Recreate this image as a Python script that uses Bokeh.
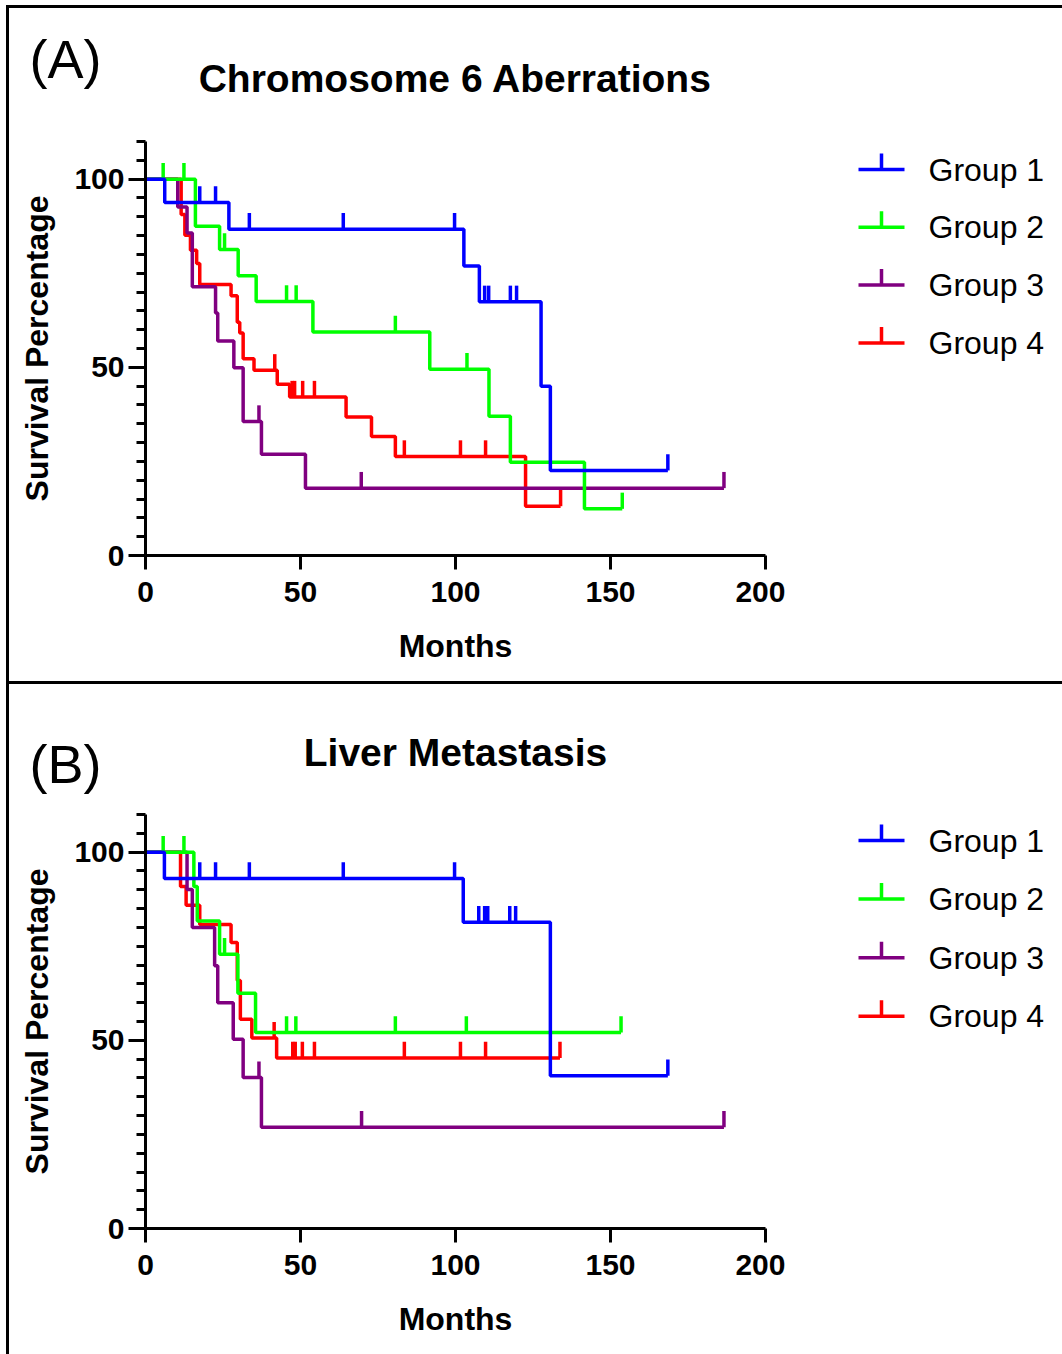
from bokeh.plotting import figure
from bokeh.models import Range1d, FixedTicker, Label
from bokeh.core.properties import value
from bokeh.layouts import column, row
from bokeh.embed import file_html
from bokeh.resources import INLINE

GROUPS = ["Group 1", "Group 2", "Group 3", "Group 4"]
COLORS = ["#0000ff", "#00ff00", "#800080", "#ff0000"]
X_TICKS = [0, 50, 100, 150, 200]
Y_TICKS = [0, 50, 100]

# ---------------- Panel A: Chromosome 6 Aberrations ----------------
a_g1_t = [0, 6.2, 26.9, 102.7, 107.7, 127.6, 130.6]
a_g1_s = [100, 93.8, 86.7, 76.9, 67.4, 45.0, 22.6]
a_g1_end = 168.5
a_g1_c = [17.5, 22.6, 33.5, 63.8, 99.7, 109.4, 110.7, 117.7, 119.7, 168.5]

a_g2_t = [0, 16.1, 23.9, 29.9, 35.7, 54.0, 91.7, 110.8, 117.7, 141.6]
a_g2_s = [100, 87.5, 81.3, 74.3, 67.5, 59.4, 49.5, 37.0, 24.8, 12.4]
a_g2_end = 153.8
a_g2_c = [5.7, 12.4, 25.5, 45.5, 48.6, 80.6, 103.7, 153.8]

a_g3_t = [0, 10.4, 13.4, 15.1, 22.6, 23.3, 28.5, 31.5, 37.4, 51.6]
a_g3_s = [100, 92.6, 85.7, 71.4, 64.4, 57.0, 49.9, 35.6, 26.9, 17.9]
a_g3_end = 186.6
a_g3_c = [36.6, 69.6, 186.6]

a_g4_t = [0, 11.5, 12.7, 14.5, 16.5, 17.5, 27.6, 29.6, 30.4, 31.5, 35.0, 42.5, 46.5, 64.7, 72.9, 80.6, 122.6]
a_g4_s = [100, 90.6, 85.1, 81.1, 77.6, 72.0, 69.0, 62.0, 59.1, 52.3, 49.2, 45.5, 42.1, 36.8, 31.6, 26.3, 13.1]
a_g4_end = 133.9
a_g4_c = [41.7, 47.3, 48.1, 50.7, 54.5, 83.5, 101.6, 109.7, 133.9]

# ---------------- Panel B: Liver Metastasis ----------------
b_g1_t = [0, 6.1, 102.5, 130.6]
b_g1_s = [100, 93.0, 81.4, 40.6]
b_g1_end = 168.5
b_g1_c = [17.5, 22.6, 33.5, 63.8, 99.7, 107.5, 109.4, 110.4, 117.5, 119.4, 168.5]

b_g2_t = [0, 15.6, 16.7, 23.9, 29.8, 35.5]
b_g2_s = [100, 90.9, 81.7, 72.9, 62.5, 52.1]
b_g2_end = 153.4
b_g2_c = [5.7, 12.4, 25.5, 45.5, 48.5, 80.6, 103.5, 153.4]

b_g3_t = [0, 13.4, 15.1, 22.3, 23.3, 28.3, 31.5, 37.4]
b_g3_s = [100, 90.1, 80.0, 69.8, 60.0, 50.3, 40.1, 26.9]
b_g3_end = 186.6
b_g3_c = [36.6, 69.7, 186.6]

b_g4_t = [0, 11.3, 13.1, 17.5, 27.6, 29.6, 30.6, 34.3, 42.3]
b_g4_s = [100, 90.9, 85.9, 80.8, 76.0, 65.9, 55.6, 50.6, 45.3]
b_g4_end = 133.7
b_g4_c = [41.5, 47.5, 48.3, 50.6, 54.5, 83.5, 101.6, 109.7, 133.7]

FONT = "Liberation Sans"
TICK_H = 4.3   # censor tick height (% units)
LW = 3.5
CONTENT_W = 1053
MAIN_W = 776
LEG_W = CONTENT_W - MAIN_W
FRAME_W, FRAME_H = 620, 414


def level_at(ts, ss, c):
    v = ss[0]
    for t, s in zip(ts, ss):
        if t <= c:
            v = s
    return v


def style_blank(f):
    f.outline_line_color = None
    f.grid.visible = False
    return f


def make_header(title, tag, h, title_y, tag_y):
    f = figure(width=CONTENT_W, height=h, x_range=Range1d(0, CONTENT_W),
               y_range=Range1d(0, h), min_border=0, x_axis_location=None,
               y_axis_location=None, output_backend="svg", toolbar_location=None,
               background_fill_color="white", border_fill_color="white")
    style_blank(f)
    f.add_layout(Label(x=446, y=title_y, text=title, text_font=FONT,
                       text_font_style="bold", text_font_size="39px",
                       text_align="center", text_baseline="middle",
                       text_color="black"))
    f.add_layout(Label(x=56, y=tag_y, text=tag, text_font=FONT,
                       text_font_size="54px", text_align="center",
                       text_baseline="middle", text_color="black"))
    return f


def make_main(groups, h, frame_top):
    p = figure(frame_width=FRAME_W, frame_height=FRAME_H,
               x_range=Range1d(0, 200), y_range=Range1d(0, 110),
               min_border_left=136, min_border_right=MAIN_W - 136 - FRAME_W,
               min_border_top=frame_top, min_border_bottom=h - frame_top - FRAME_H,
               output_backend="svg", toolbar_location=None,
               background_fill_color="white", border_fill_color="white")
    style_blank(p)

    p.xaxis.ticker = FixedTicker(ticks=X_TICKS, minor_ticks=[])
    p.yaxis.ticker = FixedTicker(ticks=Y_TICKS, minor_ticks=list(range(0, 111, 5)))
    for ax in (p.xaxis, p.yaxis):
        ax.axis_line_width = 3
        ax.axis_line_color = "black"
        ax.major_tick_line_width = 3
        ax.major_tick_line_color = "black"
        ax.minor_tick_line_width = 3
        ax.minor_tick_line_color = "black"
        ax.major_tick_in = 0
        ax.minor_tick_in = 0
        ax.major_label_text_font = FONT
        ax.major_label_text_font_style = "bold"
        ax.major_label_text_font_size = "30px"
        ax.major_label_text_color = "black"
        ax.axis_label_text_font = FONT
        ax.axis_label_text_font_style = "bold"
        ax.axis_label_text_font_size = "32px"
        ax.axis_label_text_color = "black"
    p.xaxis.major_tick_out = 14
    p.yaxis.major_tick_out = 17
    p.yaxis.minor_tick_out = 9
    p.xaxis.major_label_standoff = 12
    p.yaxis.major_label_standoff = 4
    p.xaxis.axis_label = "Months"
    p.yaxis.axis_label = "Survival Percentage"
    p.xaxis.axis_label_standoff = 23
    p.yaxis.axis_label_standoff = 16

    for i in [3, 2, 1, 0]:
        ts, ss, end, cs = groups[i]
        xs = list(ts) + [end]
        ys = list(ss) + [ss[-1]]
        p.step(x=xs, y=ys, mode="after", line_color=COLORS[i], line_width=LW)
        cy = [level_at(ts, ss, c) for c in cs]
        p.segment(x0=cs, y0=cy, x1=cs, y1=[v + TICK_H for v in cy],
                  line_color=COLORS[i], line_width=LW)
    return p


def make_key(h, frame_top, first_y, step):
    """Legend key: line with an upward censor tick, then the group label.
    Uses the same frame box as the main plot (frames are aligned in a row)."""
    f = figure(frame_width=LEG_W, frame_height=FRAME_H,
               x_range=Range1d(0, LEG_W), y_range=Range1d(0, FRAME_H),
               min_border_left=0, min_border_right=0,
               min_border_top=frame_top, min_border_bottom=h - frame_top - FRAME_H,
               x_axis_location=None, y_axis_location=None,
               output_backend="svg", toolbar_location=None,
               background_fill_color="white", border_fill_color="white")
    style_blank(f)
    x0, key_w, tick_h, gap = 73, 46, 16, 24
    ys = [first_y - k * step for k in range(len(GROUPS))]
    f.segment(x0=[x0] * 4, y0=ys, x1=[x0 + key_w] * 4, y1=ys,
              line_color=COLORS, line_width=LW)
    f.segment(x0=[x0 + key_w / 2] * 4, y0=ys, x1=[x0 + key_w / 2] * 4,
              y1=[y + tick_h for y in ys], line_color=COLORS, line_width=LW)
    f.text(x=[x0 + key_w + gap] * 4, y=ys, text=GROUPS,
           text_font=value(FONT), text_font_size="32px",
           text_baseline="middle", text_align="left", text_color="black")
    return f


groups_a = [(a_g1_t, a_g1_s, a_g1_end, a_g1_c), (a_g2_t, a_g2_s, a_g2_end, a_g2_c),
            (a_g3_t, a_g3_s, a_g3_end, a_g3_c), (a_g4_t, a_g4_s, a_g4_end, a_g4_c)]
groups_b = [(b_g1_t, b_g1_s, b_g1_end, b_g1_c), (b_g2_t, b_g2_s, b_g2_end, b_g2_c),
            (b_g3_t, b_g3_s, b_g3_end, b_g3_c), (b_g4_t, b_g4_s, b_g4_end, b_g4_c)]

# Panel A (content y 8..681, frame 141..555)
hdr_a = make_header("Chromosome 6 Aberrations", "(A)", 112, 42, 62)
main_a = make_main(groups_a, 561, 21)
key_a = make_key(561, 21, 386.0, 57.8)
panel_a = column(hdr_a, row(main_a, key_a, spacing=0), spacing=0,
                 styles={"border-top": "3px solid black", "border-left": "3px solid black",
                         "border-bottom": "3px solid black", "margin-left": "6px",
                         "margin-top": "5px"})

# Panel B (content y 684..1354, frame 814..1228)
hdr_b = make_header("Liver Metastasis", "(B)", 116, 48, 37)
main_b = make_main(groups_b, 554, 14)
key_b = make_key(554, 14, 388.0, 58.6)
panel_b = column(hdr_b, row(main_b, key_b, spacing=0), spacing=0,
                 styles={"border-left": "3px solid black", "margin-left": "6px"})

layout = column(panel_a, panel_b, spacing=0)
open("out.html", "w").write(file_html(layout, INLINE))
